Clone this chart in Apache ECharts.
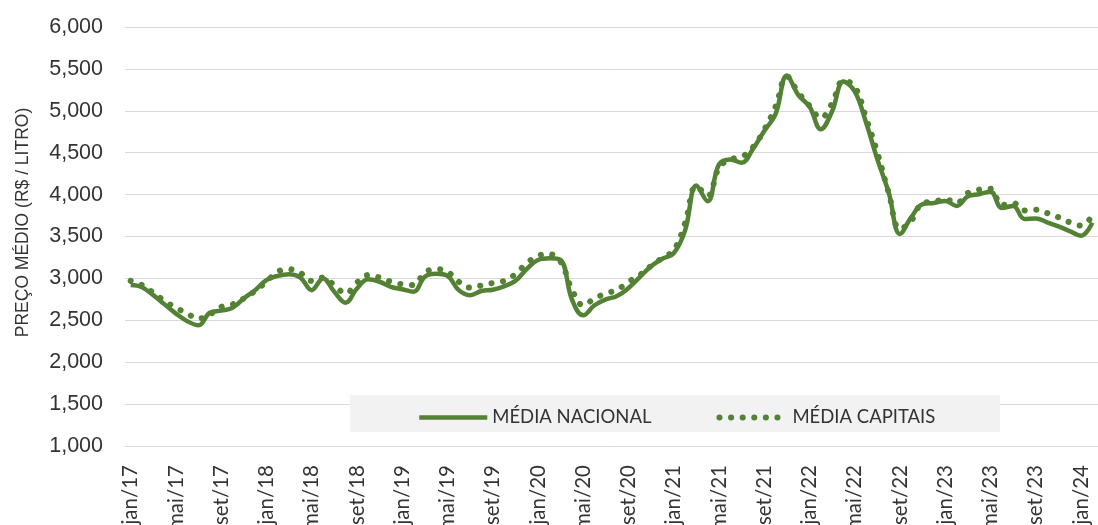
<!DOCTYPE html>
<html>
<head>
<meta charset="utf-8">
<script src="https://cdn.jsdelivr.net/npm/echarts@6/dist/echarts.min.js"></script>
<style>
  html, body { margin: 0; padding: 0; background: #fff; }
  #chart { width: 1098px; height: 525px; }
</style>
</head>
<body>
<div id="chart"></div>
<script>
var monthNames = ['jan', 'fev', 'mar', 'abr', 'mai', 'jun', 'jul', 'ago', 'set', 'out', 'nov', 'dez'];
var years = ['17', '18', '19', '20', '21', '22', '23', '24'];
var lastMonthCount = 86; // jan/17 .. fev/24

var months = [];
years.forEach(function (y) {
  monthNames.forEach(function (m) { months.push(m + '/' + y); });
});
months = months.slice(0, lastMonthCount);

// preço médio (R$ / litro)
var mediaNacional = [
  2.920, 2.895, 2.800, 2.690, 2.580, 2.490, 2.440, 2.590, 2.615, 2.650, 2.760, 2.860,
  2.980, 3.030, 3.050, 3.010, 2.860, 3.000, 2.840, 2.710, 2.880, 2.990, 2.960, 2.900,
  2.870, 2.840, 3.020, 3.055, 3.030, 2.860, 2.800, 2.850, 2.865, 2.905, 2.970, 3.110,
  3.220, 3.240, 3.220, 2.750, 2.560, 2.680, 2.750, 2.790, 2.885, 3.015, 3.145, 3.235,
  3.300, 3.570, 4.110, 3.920, 4.360, 4.420, 4.380, 4.545, 4.760, 4.960, 5.420, 5.190,
  5.050, 4.780, 4.995, 5.350, 5.230, 4.860, 4.420, 4.025, 3.530, 3.730, 3.885, 3.900,
  3.925, 3.865, 3.980, 4.005, 4.035, 3.840, 3.865, 3.710, 3.715, 3.670, 3.620, 3.565,
  3.510, 3.665
];
var mediaCapitais = [
  2.970, 2.920, 2.830, 2.730, 2.650, 2.580, 2.520, 2.570, 2.660, 2.690, 2.760, 2.850,
  2.960, 3.080, 3.110, 3.065, 2.970, 3.010, 2.920, 2.820, 2.950, 3.040, 3.010, 2.960,
  2.930, 2.920, 3.070, 3.110, 3.080, 2.960, 2.890, 2.915, 2.945, 2.970, 3.050, 3.180,
  3.270, 3.290, 3.200, 2.870, 2.680, 2.760, 2.820, 2.865, 2.960, 3.040, 3.150, 3.245,
  3.335, 3.660, 4.100, 3.985, 4.320, 4.420, 4.450, 4.565, 4.775, 5.050, 5.410, 5.220,
  5.060, 4.915, 5.090, 5.360, 5.290, 4.915, 4.500, 4.020, 3.590, 3.690, 3.900, 3.915,
  3.945, 3.900, 4.020, 4.060, 4.070, 3.875, 3.900, 3.810, 3.820, 3.780, 3.730, 3.670,
  3.630, 3.750
];

var green = '#548235';
var gridColor = '#d9d9d9';
var textColor = '#333333';
var dotDash = [0.1, 11.5];

var chart = echarts.init(document.getElementById('chart'), null, { renderer: 'canvas' });
chart.setOption({
  animation: false,
  grid: { left: 125, right: 0, top: 27, bottom: 79, containLabel: false, outerBoundsMode: 'none' },
  graphic: [{
    type: 'rect',
    left: 350, top: 395, z: 5,
    shape: { width: 650, height: 37 },
    style: { fill: '#f2f2f2' }
  }],
  legend: {
    left: 412, top: 403, z: 10,
    itemWidth: 68, itemHeight: 10, itemGap: 65,
    itemStyle: { opacity: 0 },
    textStyle: { fontFamily: 'Lato', fontSize: 18.5, color: textColor },
    data: [
      { name: 'MÉDIA NACIONAL', lineStyle: { width: 4.5 } },
      { name: 'MÉDIA CAPITAIS', lineStyle: { width: 6, type: dotDash, cap: 'round' } }
    ]
  },
  xAxis: {
    type: 'category',
    data: months,
    boundaryGap: true,
    axisLine: { lineStyle: { color: gridColor } },
    axisTick: { show: false },
    axisLabel: {
      interval: 3, rotate: 90, margin: 19,
      fontFamily: 'Lato', fontSize: 20.5, color: textColor
    }
  },
  yAxis: {
    type: 'value',
    min: 1, max: 6, interval: 0.5,
    name: 'PREÇO MÉDIO (R$ / LITRO)',
    nameLocation: 'middle', nameGap: 93,
    nameTextStyle: { fontFamily: 'Liberation Sans', fontSize: 17.5, color: textColor, padding: [0, 0, 0, 28] },
    axisLine: { show: false },
    axisTick: { show: false },
    splitLine: { lineStyle: { color: gridColor } },
    axisLabel: {
      margin: 22, fontFamily: 'Liberation Sans', fontSize: 21.5, color: textColor,
      formatter: function (v) { return v.toFixed(3).replace('.', ','); }
    }
  },
  series: [
    {
      name: 'MÉDIA NACIONAL', type: 'line', data: mediaNacional,
      smooth: 0.4, symbol: 'none',
      lineStyle: { color: green, width: 4.5 },
      itemStyle: { color: green }
    },
    {
      name: 'MÉDIA CAPITAIS', type: 'line', data: mediaCapitais,
      smooth: 0.4, symbol: 'none',
      lineStyle: { color: green, width: 6, type: dotDash, cap: 'round' },
      itemStyle: { color: green }
    }
  ]
});
window.addEventListener('resize', function () { chart.resize(); });
</script>
</body>
</html>
